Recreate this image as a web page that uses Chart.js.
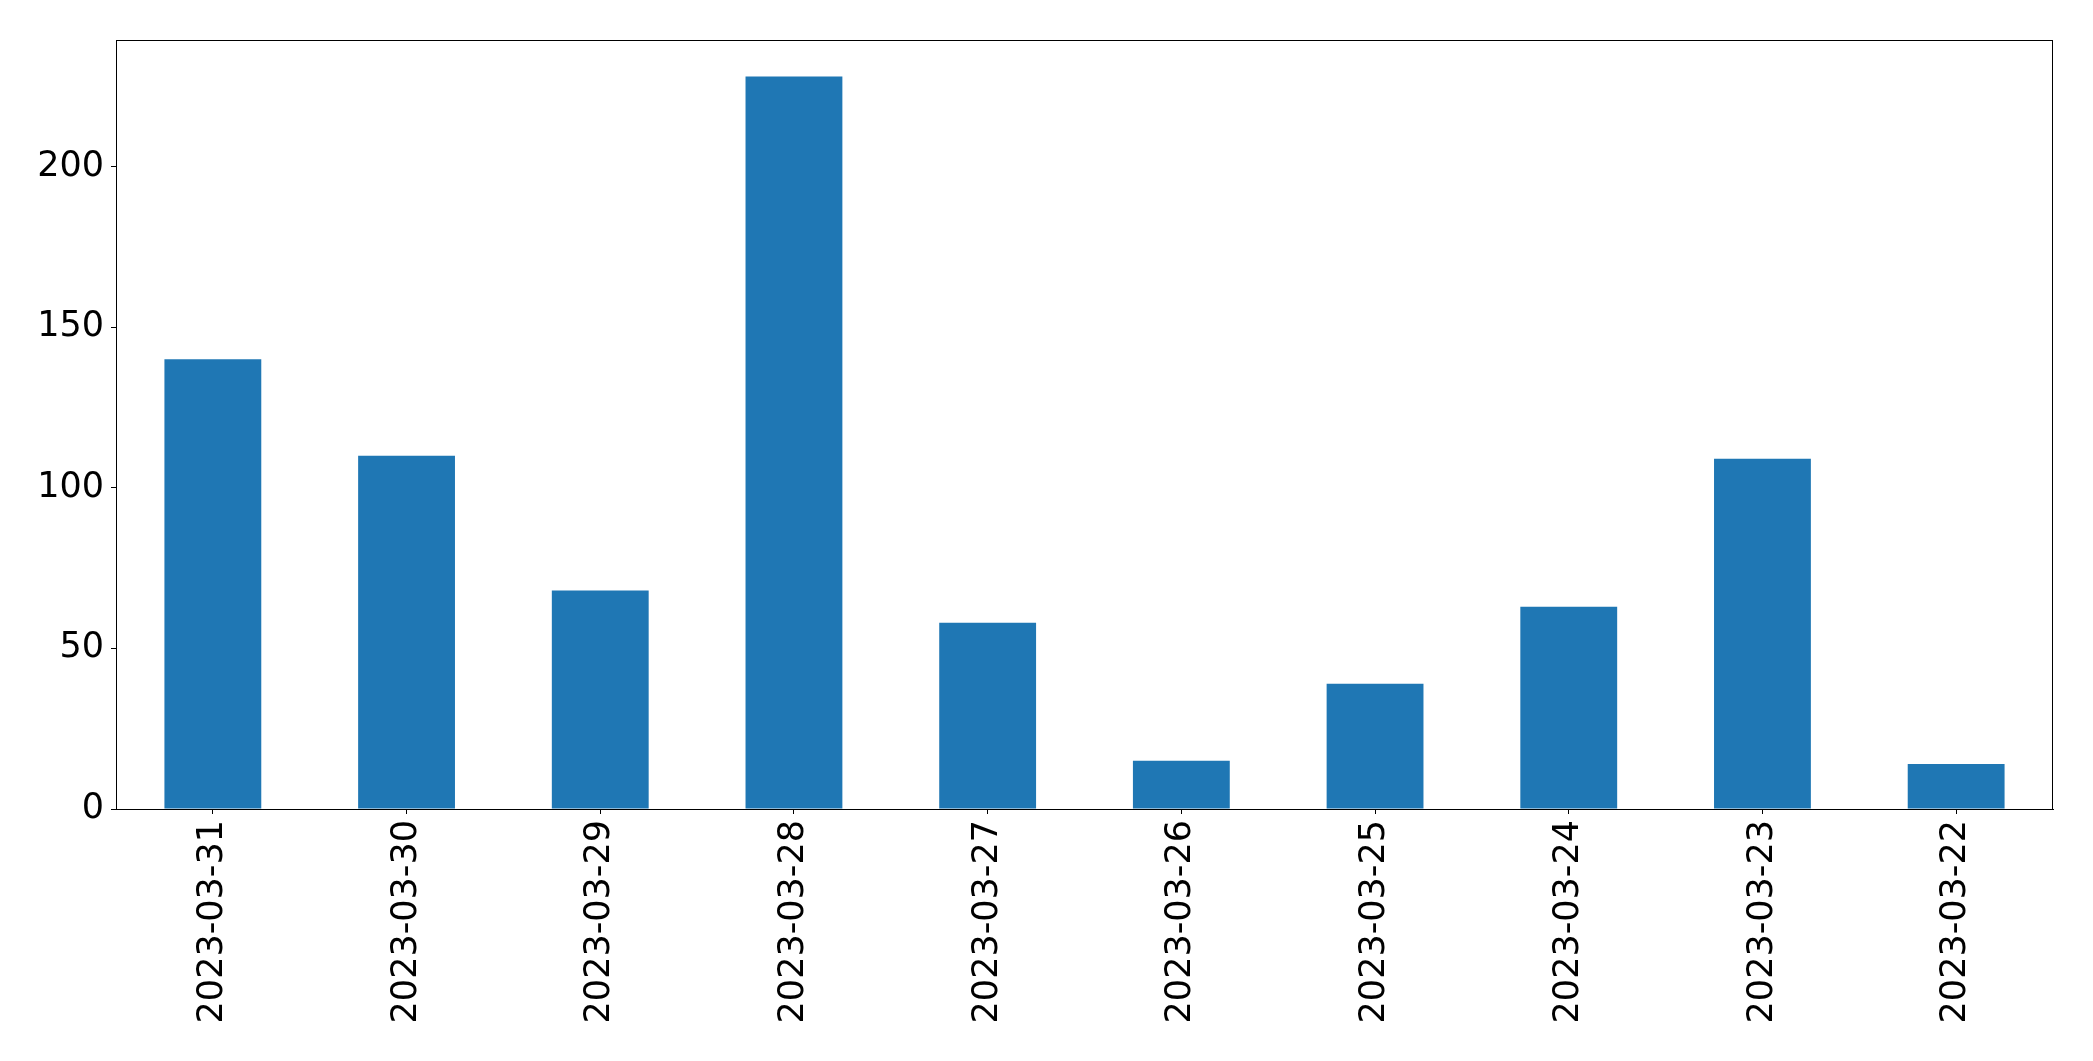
<!DOCTYPE html>
<html>
<head>
<meta charset="utf-8">
<script src="https://cdn.jsdelivr.net/npm/chart.js@4/dist/chart.umd.min.js"></script>
<style>
  body { margin: 0; background: #fff; }
  #wrap { width: 2093px; height: 1061px; }
</style>
</head>
<body>
<div id="wrap"><canvas id="grafica" width="2093" height="1061"></canvas></div>
<script>
const fechas = ['2023-03-31', '2023-03-30', '2023-03-29', '2023-03-28', '2023-03-27',
                '2023-03-26', '2023-03-25', '2023-03-24', '2023-03-23', '2023-03-22'];
const totales = [140, 110, 68, 228, 58, 15, 39, 63, 109, 14];
const ticksY = [0, 50, 100, 150, 200];

// marco completo alrededor del area del grafico
const marco = {
    id: 'marco',
    afterDraw(chart) {
        const a = chart.chartArea;
        const ctx = chart.ctx;
        ctx.save();
        ctx.strokeStyle = '#000';
        ctx.lineWidth = 1;
        ctx.strokeRect(a.left + 0.5, a.top + 0.5, a.right - a.left - 1, a.bottom - a.top);
        ctx.restore();
    }
};

Chart.defaults.font.family = '"DejaVu Sans", sans-serif';
Chart.defaults.color = '#000';

new Chart(document.getElementById('grafica'), {
    type: 'bar',
    data: {
        labels: fechas,
        datasets: [{
            data: totales,
            backgroundColor: '#1f77b4',
            borderWidth: 0,
            categoryPercentage: 1,
            barPercentage: 0.5
        }]
    },
    options: {
        responsive: false,
        animation: false,
        layout: { padding: { top: 40, right: 40, left: 0, bottom: 0 } },
        plugins: { legend: { display: false }, tooltip: { enabled: false } },
        scales: {
            x: {
                grid: { offset: false, drawOnChartArea: false, tickLength: 5, tickColor: '#000' },
                border: { color: '#000', width: 1 },
                ticks: { font: { size: 35 }, minRotation: 90, maxRotation: 90, padding: 6 },
                afterFit: s => { s.height = 252; }
            },
            y: {
                min: 0,
                max: 239.4,
                grid: { drawOnChartArea: false, tickLength: 5, tickColor: '#000' },
                border: { color: '#000', width: 1 },
                ticks: { font: { size: 35 }, padding: 7 },
                afterBuildTicks: s => { s.ticks = ticksY.map(v => ({ value: v })); },
                afterFit: s => { s.width = 116; }
            }
        }
    },
    plugins: [marco]
});
</script>
</body>
</html>
